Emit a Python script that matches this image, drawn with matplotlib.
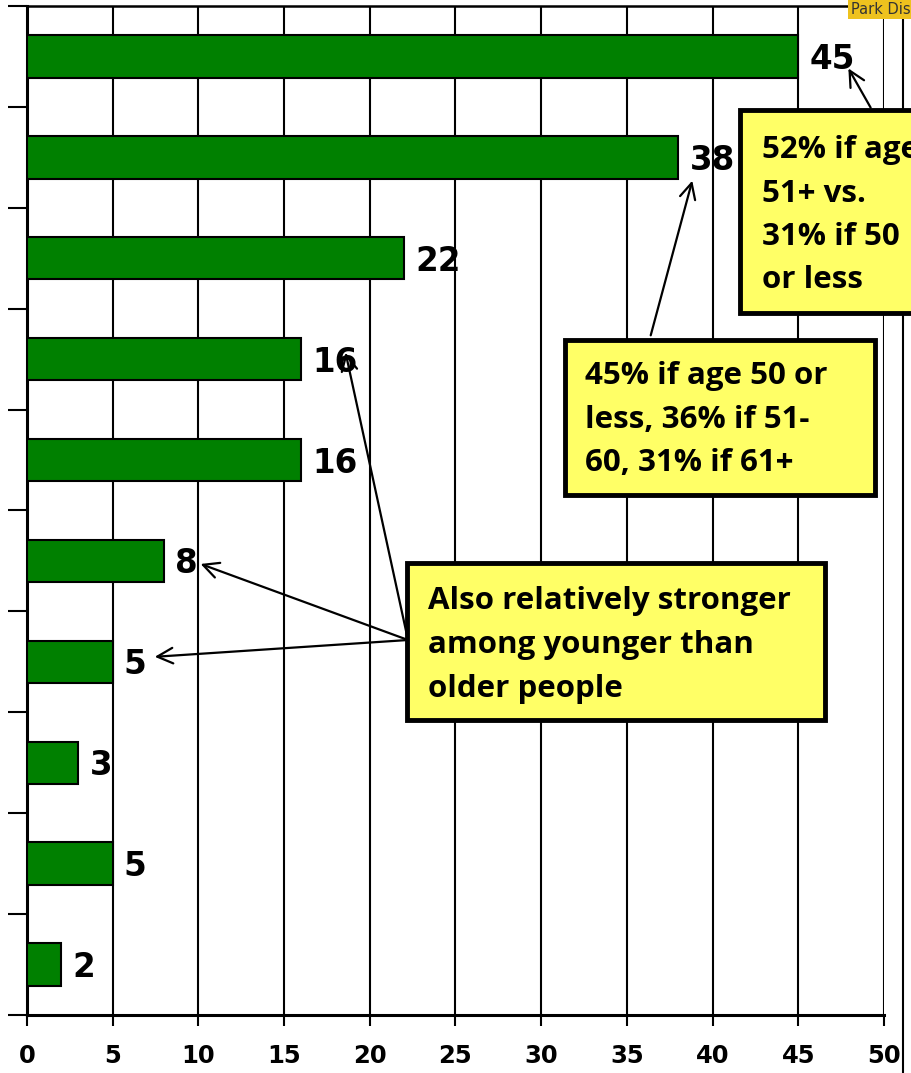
import numpy as np
import matplotlib.pyplot as plt
from matplotlib.patches import Rectangle
from matplotlib.lines import Line2D

# values top to bottom (category names are not shown on the chart)
categories = ['c1', 'c2', 'c3', 'c4', 'c5', 'c6', 'c7', 'c8', 'c9', 'c10']
values = [45, 38, 22, 16, 16, 8, 5, 3, 5, 2]
x_ticks = [0, 5, 10, 15, 20, 25, 30, 35, 40, 45, 50]

note_top = ['52% if age', '51+ vs.', '31% if 50', 'or less']
note_mid = ['45% if age 50 or', 'less, 36% if 51-', '60, 31% if 61+']
note_low = ['Also relatively stronger', 'among younger than', 'older people']

W, H = 912, 1073
fig = plt.figure(figsize=(W / 100, H / 100), dpi=100)
ax = fig.add_axes([27 / W, 1 - 1015 / H, (884 - 27) / W, (1015 - 6) / H])

y = np.arange(len(categories))
ax.barh(y, values, height=0.42, color='#008000', edgecolor='black', linewidth=1.5, zorder=3)
ax.set_ylim(len(categories) - 0.5, -0.5)
ax.set_xlim(0, 50)

num_font = dict(family='DejaVu Sans', weight='bold')
for yi, v in zip(y, values):
    ax.text(v + 0.65, yi + 0.03, str(v), va='center', ha='left', fontsize=23.5, zorder=4, **num_font)

ax.set_xticks(x_ticks)
ax.set_xticklabels([str(t) for t in x_ticks], fontsize=17.5, **num_font)
ax.tick_params(axis='x', direction='out', length=8, width=1.5, pad=13)
ax.set_yticks(np.arange(-0.5, len(categories), 1.0))
ax.set_yticklabels([])
ax.tick_params(axis='y', direction='out', length=14, width=1.5)
ax.xaxis.grid(True, color='black', linewidth=1.5, zorder=0)
ax.set_axisbelow(True)
for side in ['left', 'bottom']:
    ax.spines[side].set_linewidth(2.2)
ax.spines['top'].set_linewidth(1.8)
ax.spines['right'].set_visible(False)


def px(x, yy):
    return x / W, 1 - yy / H


def to_data(x, yy):
    return (x - 27) / (857 / 50), (yy - 6) / 100.9 - 0.5


# right border line of the slide
fig.add_artist(Line2D([903 / W, 903 / W], [0, 1], color='black', linewidth=1.5))

# small header tag at the top edge
fig.add_artist(Rectangle(px(848, 19), (W - 848) / W, 19 / H, facecolor='#EEC21E',
                         edgecolor='none', zorder=5))
fig.text(*px(851, 10), 'Park Dis', fontsize=10.5, color='#333333', va='center', ha='left',
         family='DejaVu Sans', zorder=6)

note_font = dict(family='Open Sans', weight='bold', fontsize=22.5)
arrow = dict(arrowstyle='->', color='black', lw=1.6, mutation_scale=28)


def note(x0, y0, x1, y1, lines, line_y, text_x):
    fig.add_artist(Rectangle(px(x0, y1), (x1 - x0) / W, (y1 - y0) / H, facecolor='#FFFF66',
                             edgecolor='black', linewidth=3.5, zorder=5))
    for s, ly in zip(lines, line_y):
        fig.text(*px(text_x, ly), s, va='center', ha='left', zorder=6, **note_font)


# arrows
ax.annotate('', xy=to_data(847, 66), xytext=to_data(872, 110), arrowprops=arrow, zorder=4)
ax.annotate('', xy=to_data(693, 178), xytext=to_data(650, 338), arrowprops=arrow, zorder=4)
for hx, hy in [(345, 350), (198, 563), (152, 657)]:
    ax.annotate('', xy=to_data(hx, hy), xytext=to_data(408, 640), arrowprops=arrow, zorder=4)

note(740, 110, 960, 313, note_top, [150, 194, 237, 280], 762)
note(565, 340, 875, 495, note_mid, [376, 420, 463], 585)
note(407, 563, 825, 720, note_low, [601, 645, 689], 428)

fig.savefig('out.png', dpi=100)
